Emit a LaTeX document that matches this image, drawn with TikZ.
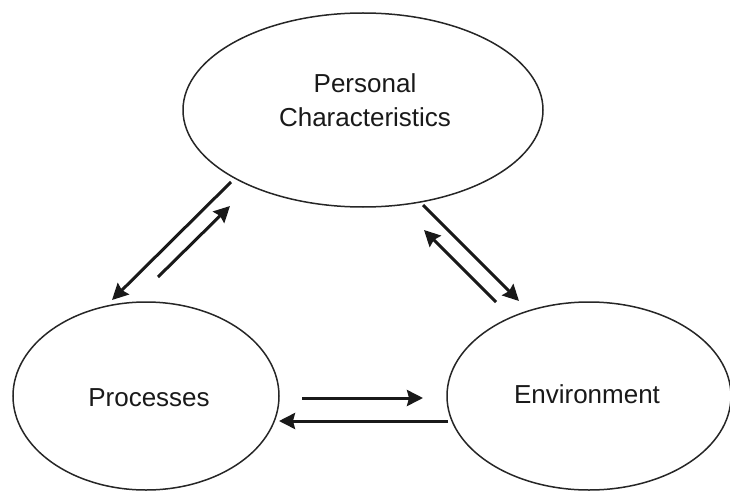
\documentclass[tikz,border=0pt]{standalone}
\usepackage{fontspec}
\setmainfont{Liberation Sans}
\usetikzlibrary{shapes.geometric,arrows.meta}
\begin{document}
\begin{tikzpicture}[x=1pt,y=1pt,
  blob/.style={draw=black!85,line width=1.5pt,ellipse,inner sep=0pt},
  lbl/.style={text=black!90,font=\fontsize{26}{34}\selectfont,align=center,inner sep=0pt},
  arr/.style={draw=black!90,line width=3pt,-{Stealth[length=16pt,width=16pt,inset=2pt]}}]
\useasboundingbox (0,0) rectangle (730,-492);
% ellipses
\node[blob,minimum width=360pt,minimum height=194pt] (pc) at (363,-110) {};
\node[blob,minimum width=266pt,minimum height=188pt] (pr) at (146,-396) {};
\node[blob,minimum width=284pt,minimum height=188pt] (en) at (589,-396) {};
% texts
\node[lbl] (pct) at (365,-100) {Personal\\Characteristics};
\node[lbl] (prt) at (149,-398) {Processes};
\node[lbl] (ent) at (587,-394) {Environment};
% arrow end points
\coordinate (a1) at (231,-182); \coordinate (a2) at (112,-300);
\coordinate (b1) at (158,-277); \coordinate (b2) at (230,-206);
\coordinate (c1) at (423,-205); \coordinate (c2) at (519,-301);
\coordinate (d1) at (496,-302); \coordinate (d2) at (424,-230);
\coordinate (e1) at (302,-398); \coordinate (e2) at (423,-398);
\coordinate (f1) at (448,-421); \coordinate (f2) at (279,-421);
\draw[arr] (a1) -- (a2);
\draw[arr] (b1) -- (b2);
\draw[arr] (c1) -- (c2);
\draw[arr] (d1) -- (d2);
\draw[arr] (e1) -- (e2);
\draw[arr] (f1) -- (f2);
\end{tikzpicture}
\end{document}
